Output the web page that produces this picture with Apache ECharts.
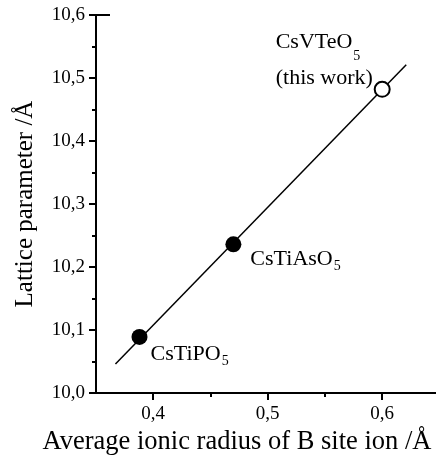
<!DOCTYPE html>
<html><head><meta charset="utf-8">
<script src="https://cdn.jsdelivr.net/npm/echarts@6/dist/echarts.min.js"></script>
<style>html,body{margin:0;padding:0;background:#fff}#c{width:436px;height:459px}</style>
</head><body><div id="c"></div>
<script>
// Data
const filledNames = ['CsTiPO', 'CsTiAsO'];
const filledX = [0.388, 0.470];
const filledY = [10.089, 10.236];
const openName = 'CsVTeO';
const openX = [0.600];
const openY = [10.482];
const fitX = [0.367, 0.621];
const fitY = [10.046, 10.521];
const xMajorTicks = [0.4, 0.5, 0.6];
const xMinorTicks = [0.45, 0.55];
const xLabel = 'Average ionic radius of B site ion /Å';
const yLabel = 'Lattice parameter /Å';

const FONT = 'Liberation Serif';
const subStyle = {fontFamily: FONT, fontSize: 14, color: '#000', verticalAlign: 'bottom', padding: [0, 0, -3, 1]};
const rich = {n: {fontFamily: FONT, fontSize: 22, color: '#000'}, s: subStyle};

const chart = echarts.init(document.getElementById('c'), null, {renderer: 'canvas'});
const xBase = {type: 'value', min: 0.35, max: 0.647, interval: 0.05,
  axisLine: {show: true, lineStyle: {color: '#000', width: 2}}, splitLine: {show: false}};
chart.setOption({
  animation: false,
  grid: {left: 96, top: 15, bottom: 66, right: 0, containLabel: false, outerBoundsMode: 'none'},
  xAxis: [
    Object.assign({}, xBase, {
      name: xLabel, nameLocation: 'middle', nameGap: 35,
      nameTextStyle: {fontFamily: FONT, fontSize: 26.5, color: '#000', padding: [0, 58, 0, 0]},
      axisTick: {show: true, length: 7, lineStyle: {color: '#000', width: 2}, customValues: xMajorTicks},
      axisLabel: {customValues: xMajorTicks, formatter: v => v.toFixed(1).replace('.', ','), fontFamily: FONT, fontSize: 19, color: '#000', margin: 12}
    }),
    Object.assign({}, xBase, {
      position: 'bottom',
      axisTick: {show: true, length: 4, lineStyle: {color: '#000', width: 2}, customValues: xMinorTicks},
      axisLabel: {show: false}
    })
  ],
  yAxis: [
    {type: 'value', min: 10.0, max: 10.6, interval: 0.1,
      name: yLabel, nameLocation: 'middle', nameGap: 58,
      nameTextStyle: {fontFamily: FONT, fontSize: 25, color: '#000'},
      axisLine: {show: true, lineStyle: {color: '#000', width: 2}},
      axisTick: {show: true, length: 7, lineStyle: {color: '#000', width: 2}},
      minorTick: {show: true, splitNumber: 2, length: 4, lineStyle: {color: '#000', width: 2}},
      splitLine: {show: false},
      axisLabel: {formatter: v => v.toFixed(1).replace('.', ','), fontFamily: FONT, fontSize: 19, color: '#000', margin: 11}
    },
    {type: 'value', min: 10.0, max: 10.6, interval: 0.1, position: 'left',
      axisLine: {show: false},
      axisTick: {show: true, inside: true, length: 14, lineStyle: {color: '#000', width: 2}, customValues: [10.6]},
      axisLabel: {show: false}, splitLine: {show: false}
    }
  ],
  series: [
    {type: 'line', data: fitX.map((x, i) => [x, fitY[i]]), symbol: 'none',
      lineStyle: {color: '#000', width: 1.5}, z: 1},
    {type: 'scatter', data: filledX.map((x, i) => ({value: [x, filledY[i]], name: filledNames[i],
        label: i === 0 ? {position: 'right', distance: 3, offset: [0, 17]} : {position: 'right', distance: 9, offset: [0, 15]}})),
      symbol: 'circle', symbolSize: 16, itemStyle: {color: '#000', opacity: 1}, z: 3,
      label: {show: true, formatter: p => '{n|' + p.name + '}{s|5}', rich: rich}},
    {type: 'scatter', data: openX.map((x, i) => ({value: [x, openY[i]], name: openName})),
      symbol: 'circle', symbolSize: 15, itemStyle: {color: '#fff', borderColor: '#000', borderWidth: 2, opacity: 1}, z: 3,
      label: {show: true, position: [-98, -57], align: 'left', verticalAlign: 'top',
        formatter: p => '{n|' + p.name + '}{s|5}\n{n|(this work)}',
        rich: {n: {fontFamily: FONT, fontSize: 22, color: '#000', lineHeight: 36}, s: subStyle}}}
  ]
});
</script></body></html>
